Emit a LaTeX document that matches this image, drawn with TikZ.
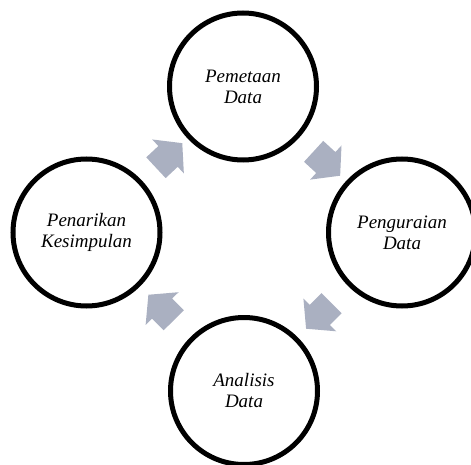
\documentclass[tikz,border=0pt]{standalone}
\usepackage{fontspec}
\setmainfont{Liberation Serif}
\usetikzlibrary{shapes.arrows}
\definecolor{grisflecha}{RGB}{170,176,193}
\tikzset{
    etapa/.style={circle, draw=black, line width=5pt, minimum size=147pt,
        inner sep=0pt, align=center, font=\itshape\fontsize{19}{21}\selectfont},
    flecha/.style={single arrow, fill=grisflecha, draw=none, inner xsep=0pt,
        inner ysep=14pt, minimum height=36pt, single arrow head extend=9pt,
        single arrow tip angle=100, sloped, allow upside down, midway}
}
\begin{document}
\begin{tikzpicture}[x=1pt,y=1pt]
    \useasboundingbox (0,0) rectangle (471,-465);

    % etapas del ciclo
    \node[etapa] (pemetaan) at (243,-86.5) {Pemetaan\\Data};
    \node[etapa] (penguraian) at (402,-232.5) {Penguraian\\Data};
    \node[etapa] (analisis) at (244,-391) {Analisis\\Data};
    \node[etapa] (penarikan) at (86.5,-232.5) {Penarikan\\Kesimpulan};

    % flechas entre etapas
    \path (pemetaan) -- (penguraian) node[flecha] {};
    \path (penguraian) -- (analisis) node[flecha] {};
    \path (analisis) -- (penarikan) node[flecha] {};
    \path (penarikan) -- (pemetaan) node[flecha] {};

\end{tikzpicture}
\end{document}
